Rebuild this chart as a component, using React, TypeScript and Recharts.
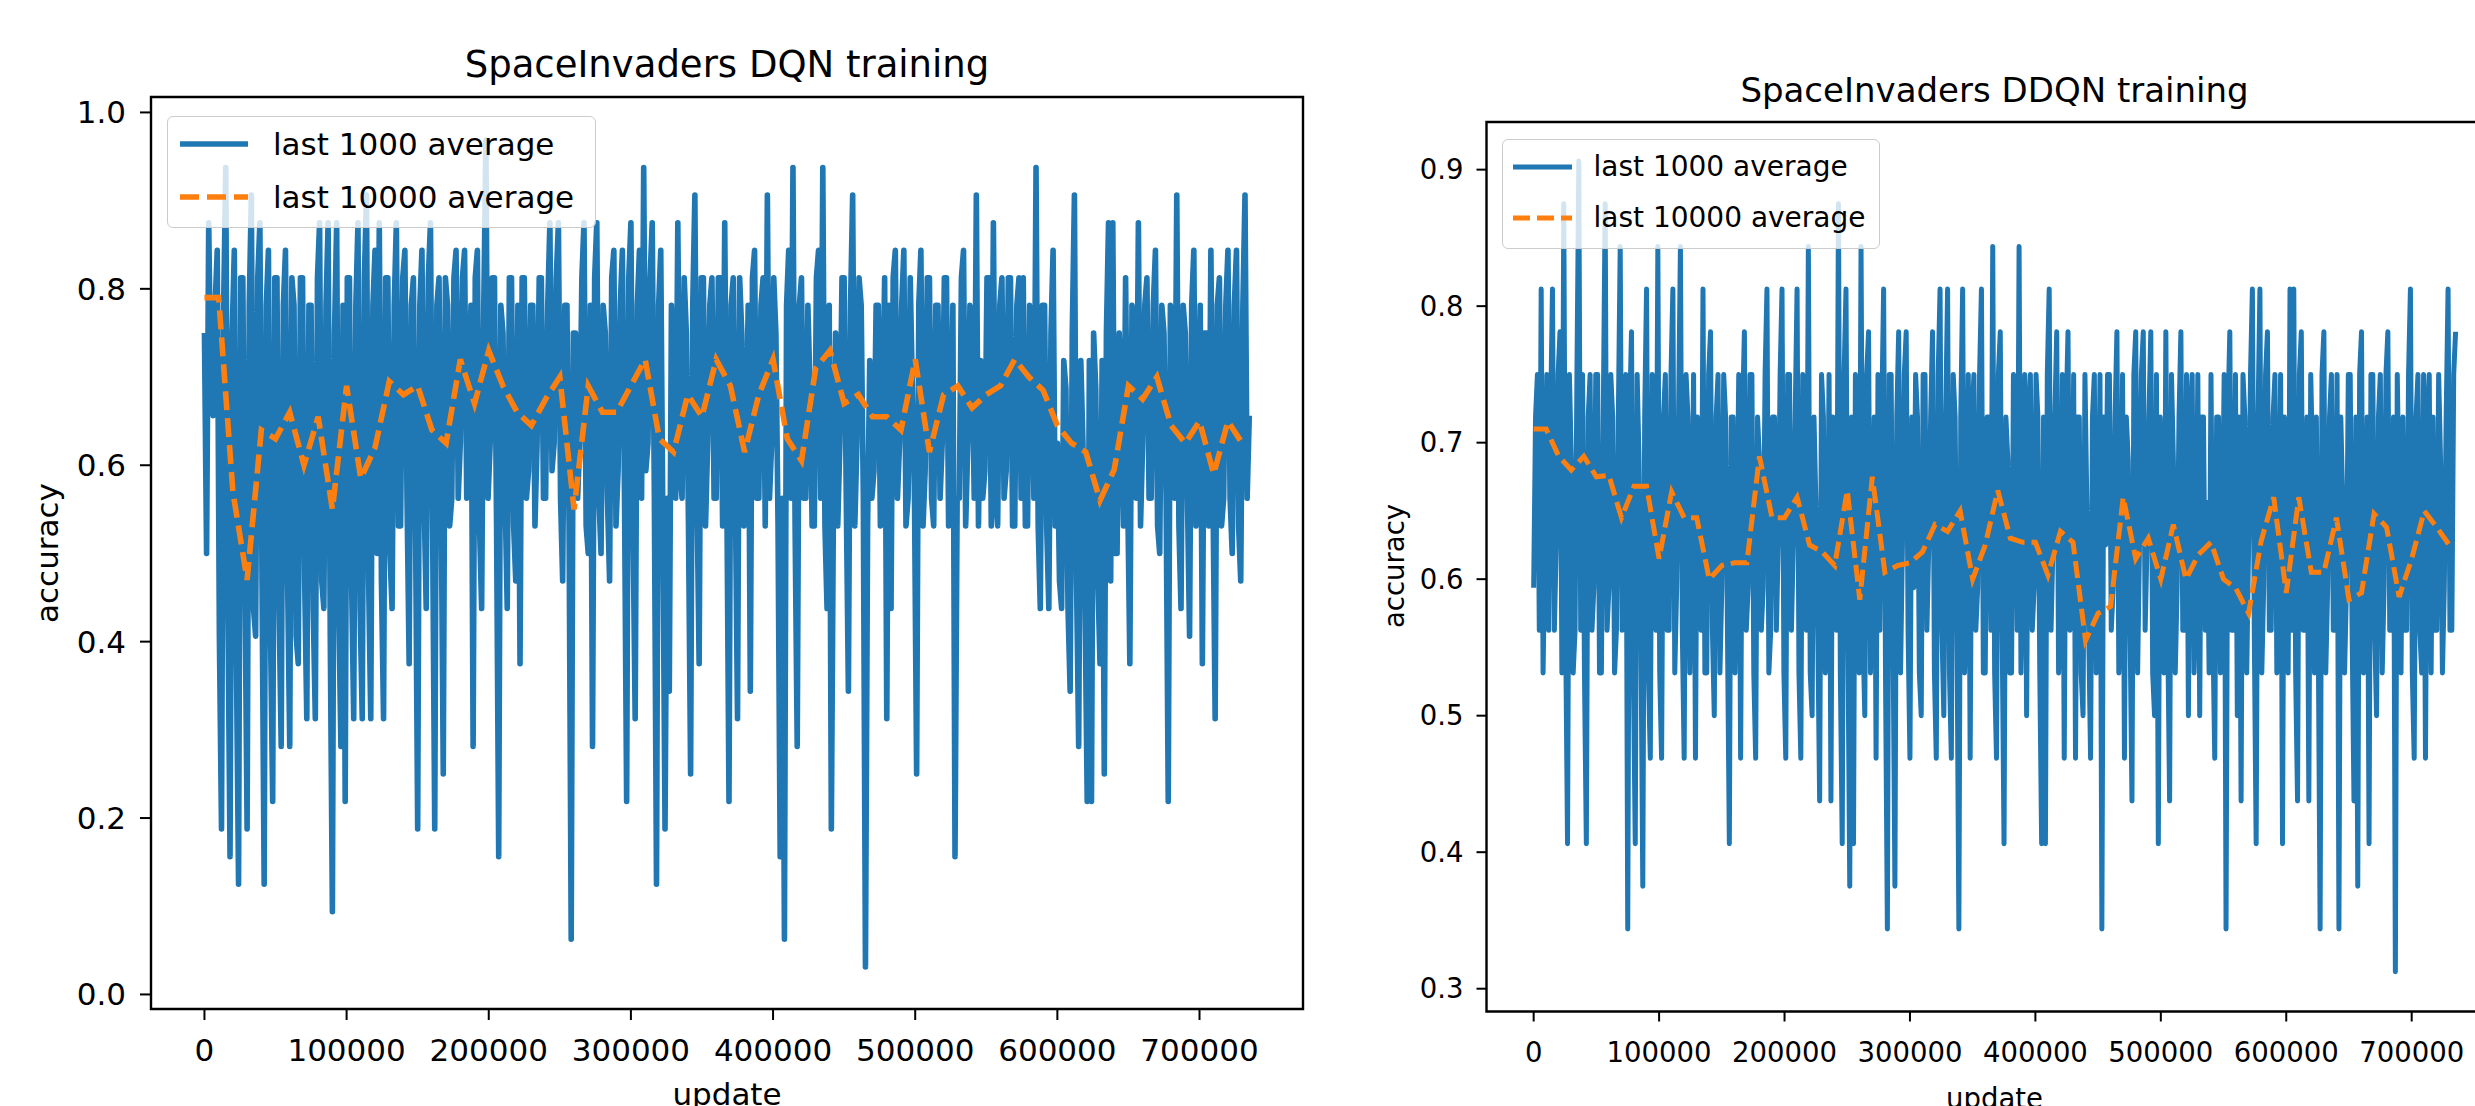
import React from 'react';
import { LineChart, Line, XAxis, YAxis, Legend, ReferenceArea } from 'recharts';

// accuracy per 32-game batch (hits out of 32), one reading every 1500 updates (last 1000 average)
const BLUE_STEP = 1500;
// last 10000 average, one reading every 10000 updates
const ORANGE_STEP = 10000;

const DQN_HITS = [
  24, 16, 28, 22, 21, 25, 27, 13, 6, 25, 30, 14, 5, 24, 27, 12, 4, 26, 26, 15,
  6, 25, 29, 14, 13, 26, 28, 15, 4, 25, 27, 13, 7, 26, 26, 14, 9, 25, 27, 15,
  9, 26, 25, 13, 12, 26, 26, 15, 10, 25, 25, 14, 10, 26, 28, 15, 14, 25, 28, 13,
  3, 24, 28, 14, 9, 25, 7, 26, 26, 15, 10, 25, 28, 14, 10, 26, 29, 15, 10, 25,
  27, 16, 28, 15, 10, 26, 26, 16, 14, 25, 28, 17, 17, 26, 27, 18, 12, 25, 26, 17,
  6, 25, 27, 18, 14, 26, 28, 17, 6, 25, 26, 18, 8, 26, 25, 17, 18, 26, 27, 18,
  20, 26, 27, 18, 22, 25, 9, 26, 27, 17, 14, 25, 31, 18, 20, 26, 26, 17, 5, 25,
  24, 18, 14, 26, 26, 17, 15, 25, 12, 26, 26, 18, 19, 25, 25, 17, 20, 26, 26, 18,
  18, 25, 28, 19, 20, 26, 28, 18, 15, 25, 25, 17, 2, 24, 24, 18, 20, 26, 28, 17,
  16, 25, 9, 26, 28, 18, 16, 25, 24, 18, 15, 26, 27, 17, 19, 25, 27, 18, 7, 26,
  28, 17, 10, 25, 27, 18, 30, 19, 20, 26, 28, 18, 4, 25, 27, 17, 6, 18, 11, 25,
  22, 18, 28, 19, 18, 26, 24, 17, 8, 25, 29, 18, 12, 26, 26, 17, 20, 25, 26, 18,
  18, 26, 26, 17, 28, 18, 7, 25, 26, 18, 10, 26, 24, 17, 20, 25, 11, 26, 27, 18,
  18, 25, 26, 17, 29, 18, 20, 26, 24, 17, 5, 18, 2, 25, 27, 18, 30, 17, 9, 25,
  26, 18, 18, 25, 22, 17, 17, 26, 27, 18, 30, 17, 14, 25, 6, 18, 24, 17, 20, 26,
  26, 18, 11, 25, 29, 17, 20, 26, 25, 18, 1, 17, 23, 18, 19, 25, 25, 17, 21, 26,
  10, 25, 14, 26, 27, 18, 20, 25, 27, 17, 18, 26, 22, 18, 8, 25, 27, 17, 19, 26,
  26, 18, 17, 25, 25, 18, 20, 26, 26, 17, 19, 25, 5, 18, 18, 26, 27, 17, 20, 25,
  24, 18, 29, 17, 23, 18, 19, 26, 26, 17, 28, 18, 17, 25, 26, 18, 19, 26, 26, 17,
  17, 25, 26, 18, 26, 17, 17, 25, 24, 18, 30, 17, 14, 25, 25, 17, 14, 24, 27, 17,
  20, 15, 14, 23, 22, 14, 11, 24, 29, 15, 9, 23, 20, 14, 7, 23, 7, 24, 22, 15,
  12, 23, 8, 24, 28, 15, 28, 16, 16, 24, 22, 17, 26, 18, 12, 25, 24, 18, 28, 17,
  20, 25, 26, 18, 18, 25, 27, 17, 16, 25, 24, 18, 7, 25, 23, 18, 29, 17, 14, 25,
  24, 18, 13, 25, 27, 17, 20, 25, 12, 24, 24, 17, 27, 18, 10, 25, 26, 17, 18, 25,
  27, 18, 16, 25, 27, 17, 15, 25, 29, 18, 21,
];

const DQN_AVG10K = [
  0.79, 0.79, 0.57, 0.47, 0.64, 0.63, 0.66, 0.6, 0.655, 0.55,
  0.69, 0.585, 0.62, 0.695, 0.68, 0.69, 0.64, 0.625, 0.72, 0.67,
  0.73, 0.69, 0.66, 0.645, 0.675, 0.7, 0.55, 0.69, 0.66, 0.66,
  0.69, 0.72, 0.63, 0.615, 0.68, 0.655, 0.72, 0.69, 0.615, 0.68,
  0.72, 0.63, 0.605, 0.71, 0.73, 0.67, 0.68, 0.655, 0.655, 0.64,
  0.72, 0.615, 0.68, 0.69, 0.665, 0.68, 0.69, 0.72, 0.7, 0.685,
  0.645, 0.625, 0.615, 0.56, 0.595, 0.69, 0.675, 0.7, 0.645, 0.625,
  0.65, 0.59, 0.65, 0.625,
];

const DDQN_HITS = [
  19, 23, 24, 18, 26, 17, 20, 24, 18, 23, 26, 18, 20, 24, 25, 17, 28, 18, 13, 24,
  22, 17, 18, 24, 29, 18, 24, 17, 13, 23, 24, 18, 19, 24, 24, 17, 17, 23, 28, 18,
  19, 24, 23, 17, 18, 23, 27, 18, 19, 24, 11, 23, 25, 17, 13, 24, 22, 18, 12, 23,
  26, 17, 15, 24, 23, 18, 27, 17, 15, 23, 24, 18, 18, 24, 26, 17, 19, 23, 27, 18,
  15, 24, 23, 17, 20, 24, 15, 23, 22, 18, 26, 17, 17, 24, 25, 18, 16, 23, 24, 17,
  19, 24, 23, 18, 13, 23, 23, 17, 20, 24, 15, 23, 25, 18, 19, 24, 24, 17, 15, 23,
  22, 18, 19, 24, 26, 17, 18, 23, 23, 18, 20, 24, 26, 17, 15, 24, 24, 18, 20, 23,
  26, 17, 15, 24, 22, 18, 27, 17, 16, 23, 21, 18, 14, 24, 23, 17, 18, 24, 14, 23,
  22, 18, 28, 17, 13, 24, 26, 18, 12, 23, 13, 24, 21, 17, 27, 18, 16, 24, 25, 17,
  19, 23, 15, 24, 18, 23, 26, 17, 11, 24, 24, 18, 12, 23, 25, 17, 20, 24, 25, 18,
  15, 23, 19, 24, 23, 17, 16, 24, 24, 18, 20, 23, 25, 17, 15, 24, 26, 18, 16, 23,
  26, 17, 15, 24, 23, 18, 11, 23, 26, 17, 19, 24, 15, 23, 24, 18, 19, 24, 26, 17,
  17, 23, 23, 18, 27, 17, 15, 24, 25, 18, 13, 23, 22, 17, 17, 24, 23, 18, 27, 17,
  20, 24, 16, 23, 24, 18, 19, 24, 23, 17, 13, 23, 13, 24, 26, 18, 20, 23, 25, 17,
  18, 24, 15, 23, 25, 18, 19, 24, 15, 23, 23, 17, 16, 24, 21, 18, 15, 23, 24, 17,
  19, 24, 11, 23, 20, 24, 24, 18, 19, 23, 25, 17, 18, 24, 15, 23, 22, 18, 14, 24,
  25, 17, 20, 24, 25, 18, 20, 23, 25, 17, 16, 24, 13, 23, 21, 17, 25, 18, 14, 24,
  22, 17, 19, 23, 25, 18, 18, 24, 16, 23, 24, 17, 19, 24, 16, 23, 23, 18, 21, 17,
  24, 18, 15, 23, 23, 17, 20, 24, 11, 23, 25, 18, 18, 24, 16, 23, 14, 24, 23, 17,
  20, 24, 26, 18, 13, 23, 26, 17, 19, 24, 25, 18, 18, 23, 24, 17, 19, 24, 13, 23,
  22, 17, 26, 18, 26, 17, 14, 24, 25, 18, 18, 23, 14, 24, 22, 17, 23, 18, 11, 24,
  25, 17, 19, 23, 24, 18, 18, 24, 11, 23, 21, 17, 19, 24, 24, 18, 14, 23, 12, 24,
  25, 17, 18, 23, 13, 24, 24, 18, 16, 23, 24, 17, 19, 24, 25, 18, 18, 23, 10, 24,
  21, 17, 23, 18, 18, 24, 26, 17, 15, 23, 24, 18, 17, 24, 15, 23, 24, 17, 23, 18,
  18, 24, 22, 17, 19, 23, 26, 18, 18, 24, 25,
];

const DDQN_AVG10K = [
  0.71, 0.71, 0.69, 0.68, 0.69, 0.675, 0.676, 0.645, 0.668, 0.668,
  0.615, 0.664, 0.645, 0.645, 0.6, 0.61, 0.612, 0.612, 0.69, 0.645,
  0.645, 0.66, 0.625, 0.62, 0.61, 0.665, 0.585, 0.675, 0.605, 0.61,
  0.612, 0.62, 0.64, 0.635, 0.65, 0.6, 0.625, 0.665, 0.63, 0.627,
  0.627, 0.603, 0.635, 0.627, 0.555, 0.575, 0.58, 0.66, 0.615, 0.63,
  0.6, 0.64, 0.6, 0.618, 0.627, 0.6, 0.593, 0.575, 0.628, 0.66,
  0.59, 0.66, 0.605, 0.605, 0.645, 0.585, 0.59, 0.648, 0.638, 0.587,
  0.615, 0.65, 0.638, 0.625,
];

const X_TICKS = [0, 100000, 200000, 300000, 400000, 500000, 600000, 700000];
const DQN_Y_TICKS = [0, 0.2, 0.4, 0.6, 0.8, 1.0];
const DDQN_Y_TICKS = [0.3, 0.4, 0.5, 0.6, 0.7, 0.8, 0.9];

const SERIES = [
  { name: 'last 1000 average', color: '#1f77b4', dashed: false },
  { name: 'last 10000 average', color: '#ff7f0e', dashed: true },
];

const FONT = '"DejaVu Sans", sans-serif';
const X_DOMAIN = [-37600, 772800];

const toBlue = (hits: number[]) => hits.map((h, i) => ({ x: i * BLUE_STEP, acc: h / 32 }));
const toOrange = (avg: number[]) => avg.map((v, i) => ({ x: i * ORANGE_STEP, acc: v }));

const LegendBox = ({ cfg }: { cfg: any }) => (
  <div
    style={{
      width: cfg.w,
      height: cfg.h,
      boxSizing: 'border-box',
      border: '1.5px solid #cccccc',
      borderRadius: 6,
      background: 'rgba(255,255,255,0.8)',
      position: 'relative',
      fontFamily: FONT,
      fontSize: cfg.fs,
      color: '#000',
    }}
  >
    {SERIES.map((s, i) => (
      <div
        key={s.name}
        style={{
          position: 'absolute',
          left: 0,
          top: cfg.rows[i] - 20,
          height: 40,
          display: 'flex',
          alignItems: 'center',
          whiteSpace: 'nowrap',
        }}
      >
        <svg width={cfg.textX} height={40} style={{ display: 'block' }}>
          <line
            x1={cfg.lineX1}
            x2={cfg.lineX2}
            y1={20}
            y2={20}
            stroke={s.color}
            strokeWidth={cfg.lw}
            strokeDasharray={s.dashed ? cfg.dash : undefined}
          />
        </svg>
        <span style={{ lineHeight: '40px' }}>{s.name}</span>
      </div>
    ))}
  </div>
);

const Panel = ({ cfg, hits, avg, yDomain, yTicks }: any) => {
  const blue = toBlue(hits);
  const orange = toOrange(avg);
  const tickStyle = { fill: '#000', fontSize: cfg.fs, fontFamily: FONT };
  const tickLine = { stroke: '#000', strokeWidth: 2 };
  return (
    <div style={{ position: 'absolute', left: cfg.left, top: 0 }}>
      <LineChart width={cfg.width} height={1106} margin={cfg.margin}>
        <XAxis
          type="number"
          dataKey="x"
          domain={X_DOMAIN}
          ticks={X_TICKS}
          allowDataOverflow
          interval={0}
          height={90}
          axisLine={false}
          tickSize={cfg.tickLen}
          tickMargin={cfg.xTickMargin}
          tick={tickStyle}
          tickLine={tickLine}
        />
        <YAxis
          type="number"
          domain={yDomain}
          ticks={yTicks}
          allowDataOverflow
          interval={0}
          width={cfg.yWidth}
          axisLine={false}
          tickSize={cfg.tickLen}
          tickMargin={cfg.yTickMargin}
          tick={tickStyle}
          tickLine={tickLine}
          tickFormatter={(v: number) => v.toFixed(1)}
        />
        <ReferenceArea
          x1={X_DOMAIN[0]}
          x2={X_DOMAIN[1]}
          y1={yDomain[0]}
          y2={yDomain[1]}
          fill="none"
          stroke="#000"
          strokeWidth={2.4}
        />
        <Line
          data={blue}
          dataKey="acc"
          name={SERIES[0].name}
          type="linear"
          stroke={SERIES[0].color}
          strokeWidth={cfg.lw}
          strokeLinejoin="round"
          dot={false}
          activeDot={false}
          isAnimationActive={false}
        />
        <Line
          data={orange}
          dataKey="acc"
          name={SERIES[1].name}
          type="linear"
          stroke={SERIES[1].color}
          strokeWidth={cfg.lw}
          strokeDasharray={cfg.dash}
          dot={false}
          activeDot={false}
          isAnimationActive={false}
        />
        <Legend
          layout="horizontal"
          verticalAlign="middle"
          align="center"
          wrapperStyle={{ left: cfg.legend.x, top: cfg.legend.y, width: cfg.legend.w, height: cfg.legend.h }}
          content={() => <LegendBox cfg={cfg.legend} />}
        />
      </LineChart>
    </div>
  );
};

const DQN_CFG = {
  left: 0,
  width: 1320,
  margin: { top: 97, right: 17, left: 11, bottom: 7 },
  yWidth: 140,
  fs: 31,
  lw: 5.6,
  dash: '19 8',
  tickLen: 11,
  xTickMargin: 19,
  yTickMargin: 14,
  legend: { x: 167, y: 116, w: 429, h: 112, fs: 31, rows: [27, 79.5], textX: 105, lineX1: 12, lineX2: 80, lw: 5.6, dash: '19 8' },
};

const DDQN_CFG = {
  left: 1320,
  width: 1200,
  margin: { top: 122, right: 17, left: 36.5, bottom: 4.5 },
  yWidth: 130,
  fs: 27.5,
  lw: 5,
  dash: '17 7',
  tickLen: 10,
  xTickMargin: 21,
  yTickMargin: 13,
  legend: { x: 182, y: 139, w: 378, h: 110, fs: 28, rows: [27, 78], textX: 90.5, lineX1: 10, lineX2: 69, lw: 5, dash: '17 7' },
};

export default function App() {
  return (
    <div
      style={{
        position: 'fixed',
        left: 0,
        top: 0,
        width: 2475,
        height: 1106,
        overflow: 'hidden',
        background: '#fff',
      }}
    >
      <Panel cfg={DQN_CFG} hits={DQN_HITS} avg={DQN_AVG10K} yDomain={[-0.0165, 1.0175]} yTicks={DQN_Y_TICKS} />
      <Panel cfg={DDQN_CFG} hits={DDQN_HITS} avg={DDQN_AVG10K} yDomain={[0.2833, 0.9349]} yTicks={DDQN_Y_TICKS} />
      {/* titles and axis labels */}
      <svg
        width={2475}
        height={1106}
        style={{ position: 'absolute', left: 0, top: 0, pointerEvents: 'none' }}
        fontFamily={FONT}
        fill="#000"
      >
        <text x={727} y={77} fontSize={37} textAnchor="middle">SpaceInvaders DQN training</text>
        <text x={1994.5} y={102} fontSize={34} textAnchor="middle">SpaceInvaders DDQN training</text>
        <text x={58} y={553} fontSize={31} textAnchor="middle" transform="rotate(-90 58 553)">accuracy</text>
        <text x={1404} y={566} fontSize={27.5} textAnchor="middle" transform="rotate(-90 1404 566)">accuracy</text>
        <text x={727} y={1105} fontSize={31} textAnchor="middle">update</text>
        <text x={1994.5} y={1108} fontSize={27.5} textAnchor="middle">update</text>
      </svg>
    </div>
  );
}
